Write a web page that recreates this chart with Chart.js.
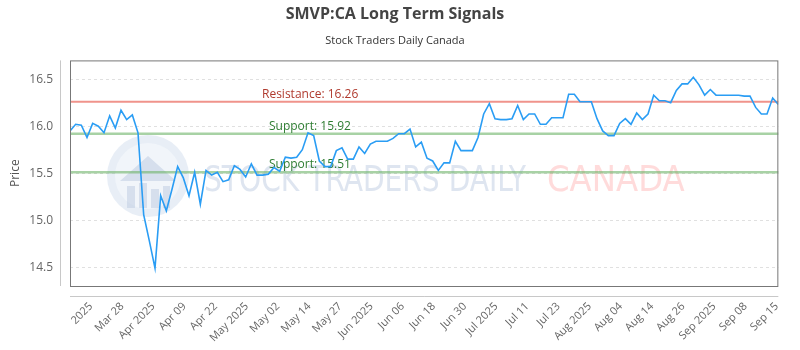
<!DOCTYPE html>
<html>
<head>
<meta charset="utf-8">
<script src="https://cdn.jsdelivr.net/npm/chart.js@4.4.1/dist/chart.umd.min.js"></script>
<style>
  html, body { margin: 0; padding: 0; background: #fff; }
  #wrap { width: 800px; height: 350px; }
</style>
</head>
<body>
<div id="wrap"><canvas id="signalChart"></canvas></div>
<script>
// closing prices, one per trading day
const prices = [
  15.95, 16.02, 16.01, 15.88, 16.03, 16.00, 15.93, 16.11, 15.98, 16.17,
  16.07, 16.12, 15.93, 15.06, 14.78, 14.49, 15.26, 15.10, 15.33, 15.57,
  15.45, 15.26, 15.51, 15.17, 15.53, 15.48, 15.51, 15.41, 15.43, 15.58,
  15.54, 15.46, 15.60, 15.48, 15.48, 15.49, 15.56, 15.52, 15.67, 15.66,
  15.67, 15.75, 15.93, 15.90, 15.63, 15.57, 15.57, 15.74, 15.77, 15.65,
  15.65, 15.78, 15.71, 15.81, 15.84, 15.84, 15.84, 15.87, 15.92, 15.92,
  15.97, 15.78, 15.83, 15.66, 15.63, 15.53, 15.61, 15.61, 15.84, 15.74,
  15.74, 15.74, 15.88, 16.13, 16.24, 16.08, 16.07, 16.07, 16.08, 16.22,
  16.07, 16.13, 16.13, 16.02, 16.02, 16.09, 16.09, 16.09, 16.34, 16.34,
  16.26, 16.26, 16.26, 16.08, 15.95, 15.90, 15.90, 16.03, 16.08, 16.02,
  16.14, 16.07, 16.13, 16.33, 16.27, 16.27, 16.25, 16.38, 16.45, 16.45,
  16.52, 16.44, 16.33, 16.39, 16.33, 16.33, 16.33, 16.33, 16.33, 16.32,
  16.32, 16.20, 16.13, 16.13, 16.30, 16.23
];

const tickLabels = [
  "2025", "Mar 28", "Apr 2025", "Apr 09", "Apr 22", "May 2025", "May 02",
  "May 14", "May 27", "Jun 2025", "Jun 06", "Jun 18", "Jun 30", "Jul 2025",
  "Jul 11", "Jul 23", "Aug 2025", "Aug 04", "Aug 14", "Aug 26", "Sep 2025",
  "Sep 08", "Sep 15"
];
const priceTicks = [14.5, 15.0, 15.5, 16.0, 16.5];

const resistance = 16.26;
const supports = [15.92, 15.51];

// x ticks are spread evenly along the trading days
const tickStart = 3.7;
const tickStep = 5.5;
const tickPos = tickLabels.map((t, i) => tickStart + i * tickStep);

const points = prices.map((p, i) => ({ x: i, y: p }));

const levelsPlugin = {
  id: "levels",
  beforeDatasetsDraw(chart) {
    const { ctx, chartArea: a, scales } = chart;
    const y = scales.y;

    // watermark
    ctx.save();
    ctx.beginPath();
    ctx.arc(148, 176, 41, 0, Math.PI * 2);
    ctx.fillStyle = "rgba(205,218,236,0.45)";
    ctx.fill();
    ctx.beginPath();
    ctx.arc(148, 176, 33, 0, Math.PI * 2);
    ctx.fillStyle = "rgba(242,246,251,0.9)";
    ctx.fill();
    ctx.fillStyle = "rgba(195,208,228,0.6)";
    ctx.beginPath();
    ctx.moveTo(120, 181);
    ctx.lineTo(148, 156);
    ctx.lineTo(176, 181);
    ctx.closePath();
    ctx.fill();
    ctx.fillRect(127, 186, 8, 22);
    ctx.fillRect(139, 183, 8, 25);
    ctx.fillRect(151, 189, 8, 19);
    ctx.fillRect(163, 186, 7, 22);
    ctx.font = "36px 'Liberation Sans Narrow', 'DejaVu Sans Condensed', sans-serif";
    ctx.textBaseline = "middle";
    ctx.textAlign = "left";
    ctx.fillStyle = "rgba(190,204,226,0.5)";
    ctx.fillText("STOCK TRADERS DAILY", 204, 182, 322);
    ctx.fillStyle = "rgba(255,175,175,0.45)";
    ctx.fillText("CANADA", 547, 182, 152);
    ctx.restore();

    ctx.save();
    ctx.font = "12px 'Open Sans', sans-serif";
    ctx.textAlign = "left";
    ctx.textBaseline = "alphabetic";

    let py = y.getPixelForValue(resistance);
    ctx.strokeStyle = "rgba(236,120,110,0.8)";
    ctx.lineWidth = 2;
    ctx.beginPath();
    ctx.moveTo(a.left, py);
    ctx.lineTo(a.right, py);
    ctx.stroke();
    ctx.fillStyle = "#b03a2e";
    ctx.fillText("Resistance: " + resistance, a.left + 192, py - 4);

    supports.forEach((s) => {
      const sy = y.getPixelForValue(s);
      ctx.strokeStyle = "rgba(110,180,105,0.6)";
      ctx.lineWidth = 2.5;
      ctx.beginPath();
      ctx.moveTo(a.left, sy);
      ctx.lineTo(a.right, sy);
      ctx.stroke();
      ctx.fillStyle = "#2e7d32";
      ctx.fillText("Support: " + s, a.left + 199, sy - 4);
    });
    ctx.restore();
  },
  afterDraw(chart) {
    const { ctx, chartArea: a } = chart;
    ctx.save();
    ctx.strokeStyle = "#777";
    ctx.lineWidth = 1;
    ctx.strokeRect(a.left + 0.5, a.top + 0.5, a.right - a.left - 1, a.bottom - a.top);
    ctx.strokeStyle = "#c8c8c8";
    ctx.beginPath();
    ctx.moveTo(a.left - 9.5, a.top);
    ctx.lineTo(a.left - 9.5, a.bottom);
    ctx.moveTo(a.left, a.bottom + 10.5);
    ctx.lineTo(a.right, a.bottom + 10.5);
    ctx.stroke();
    ctx.restore();
  },
};

const ctx = document.getElementById("signalChart").getContext("2d");
const signalChart = new Chart(ctx, {
  type: "line",
  data: {
    datasets: [
      {
        label: "Price",
        data: points,
        borderColor: "#2a9df4",
        borderWidth: 1.6,
        pointRadius: 0,
        tension: 0,
        fill: false,
      },
    ],
  },
  options: {
    responsive: true,
    maintainAspectRatio: false,
    animation: false,
    layout: { padding: { left: 0, right: 10, top: 0, bottom: 0 } },
    plugins: {
      legend: { display: false },
      tooltip: { enabled: false },
      title: {
        display: true,
        text: "SMVP:CA Long Term Signals",
        color: "#444",
        font: { family: "'Open Sans', sans-serif", size: 16, weight: "bold" },
        padding: { top: 5, bottom: 10 },
      },
      subtitle: {
        display: true,
        text: "Stock Traders Daily Canada",
        color: "#333",
        font: { family: "'Open Sans', sans-serif", size: 11 },
        padding: { top: 0, bottom: 13 },
      },
    },
    scales: {
      x: {
        type: "linear",
        min: 0,
        max: prices.length - 1,
        afterBuildTicks: (scale) => {
          scale.ticks = tickPos.map((v) => ({ value: v }));
        },
        afterFit: (scale) => {
          scale.height = 64;
        },
        grid: { display: false, drawTicks: false },
        border: { display: false },
        ticks: {
          autoSkip: false,
          maxRotation: 45,
          minRotation: 45,
          padding: 14,
          color: "#666",
          font: { family: "'Open Sans', sans-serif", size: 11 },
          callback: (value) => {
            const k = tickPos.findIndex((v) => Math.abs(v - value) < 0.01);
            return k >= 0 ? tickLabels[k] : "";
          },
        },
      },
      y: {
        min: 14.3,
        max: 16.7,
        afterBuildTicks: (scale) => {
          scale.ticks = priceTicks.map((v) => ({ value: v }));
        },
        afterFit: (scale) => {
          scale.width = 70;
        },
        grid: { color: "#e0e0e0", drawTicks: false },
        border: { display: false, dash: [3, 3] },
        ticks: {
          padding: 17,
          color: "#666",
          font: { family: "'Open Sans', sans-serif", size: 12 },
          callback: (v) => v.toFixed(1),
        },
        title: {
          display: true,
          text: "Price",
          color: "#555",
          font: { family: "'Open Sans', sans-serif", size: 12 },
          padding: { top: 8, bottom: 0 },
        },
      },
    },
  },
  plugins: [levelsPlugin],
});
</script>
</body>
</html>
